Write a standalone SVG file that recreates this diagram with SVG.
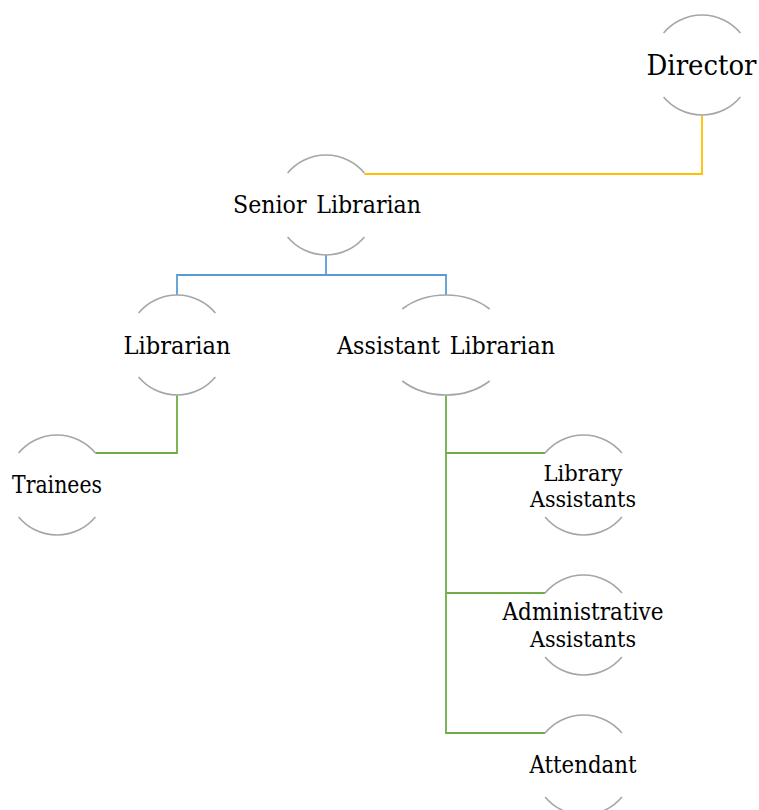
<svg xmlns="http://www.w3.org/2000/svg" width="759" height="810" viewBox="0 0 759 810">
<style>
.arc{fill:none;stroke:#A6A6A6;stroke-width:1.6}
.t{fill:#000;text-anchor:middle}
.c{fill:none;stroke-width:1.8}
</style>
<rect width="759" height="810" fill="#fff"/>
<g id="connectors">
<path class="c" stroke="#FFC000" d="M702,115 V174 H364.4"/>
<path class="c" stroke="#5B9BD5" d="M326,255 V275 M177,275 H446 M177,274 V295 M446,274 V295"/>
<path class="c" stroke="#70AD47" d="M177,395 V453 H95.4 M446,395 V733 H545.1 M446,453 H545.1 M446,593 H545.1"/>
</g>
<g font-family="DejaVu Serif, Noto Serif, serif">
<g id="director">
<path class="arc" d="M663.6,33 A50,50 0 0 1 740.4,33 M663.6,97 A50,50 0 0 0 740.4,97"/>
<text class="t" x="701.5" y="75" font-size="27" textLength="110" lengthAdjust="spacingAndGlyphs">Director</text>
</g>
<g id="senior-librarian">
<path class="arc" d="M287.6,173 A50,50 0 0 1 364.4,173 M287.6,237 A50,50 0 0 0 364.4,237"/>
<text class="t" x="327" y="213" font-size="25" textLength="188" lengthAdjust="spacingAndGlyphs" word-spacing="3">Senior Librarian</text>
</g>
<g id="librarian">
<path class="arc" d="M138.6,313 A50,50 0 0 1 215.4,313 M138.6,377 A50,50 0 0 0 215.4,377"/>
<text class="t" x="177" y="354" font-size="25" textLength="107" lengthAdjust="spacingAndGlyphs">Librarian</text>
</g>
<g id="assistant-librarian">
<path class="arc" d="M402.3,309 A63,50 0 0 1 489.7,309 M402.3,381 A63,50 0 0 0 489.7,381"/>
<text class="t" x="446" y="354" font-size="25" textLength="218" lengthAdjust="spacingAndGlyphs" word-spacing="3">Assistant Librarian</text>
</g>
<g id="trainees">
<path class="arc" d="M18.6,453 A50,50 0 0 1 95.4,453 M18.6,517 A50,50 0 0 0 95.4,517"/>
<text class="t" x="57" y="493" font-size="23.5" textLength="90" lengthAdjust="spacingAndGlyphs">Trainees</text>
</g>
<g id="library-assistants">
<path class="arc" d="M545.1,453 A50,50 0 0 1 621.9,453 M545.1,517 A50,50 0 0 0 621.9,517"/>
<text class="t" x="583" y="481" font-size="23" textLength="79" lengthAdjust="spacingAndGlyphs">Library</text>
<text class="t" x="583" y="507" font-size="23" textLength="106" lengthAdjust="spacingAndGlyphs">Assistants</text>
</g>
<g id="administrative-assistants">
<path class="arc" d="M545.1,593 A50,50 0 0 1 621.9,593 M545.1,657 A50,50 0 0 0 621.9,657"/>
<text class="t" x="583" y="620" font-size="23.5" textLength="161" lengthAdjust="spacingAndGlyphs">Administrative</text>
<text class="t" x="583" y="647" font-size="23" textLength="106" lengthAdjust="spacingAndGlyphs">Assistants</text>
</g>
<g id="attendant">
<path class="arc" d="M545.1,733 A50,50 0 0 1 621.9,733 M545.1,797 A50,50 0 0 0 621.9,797"/>
<text class="t" x="583" y="773" font-size="23.5" textLength="107" lengthAdjust="spacingAndGlyphs">Attendant</text>
</g>
</g>
</svg>
